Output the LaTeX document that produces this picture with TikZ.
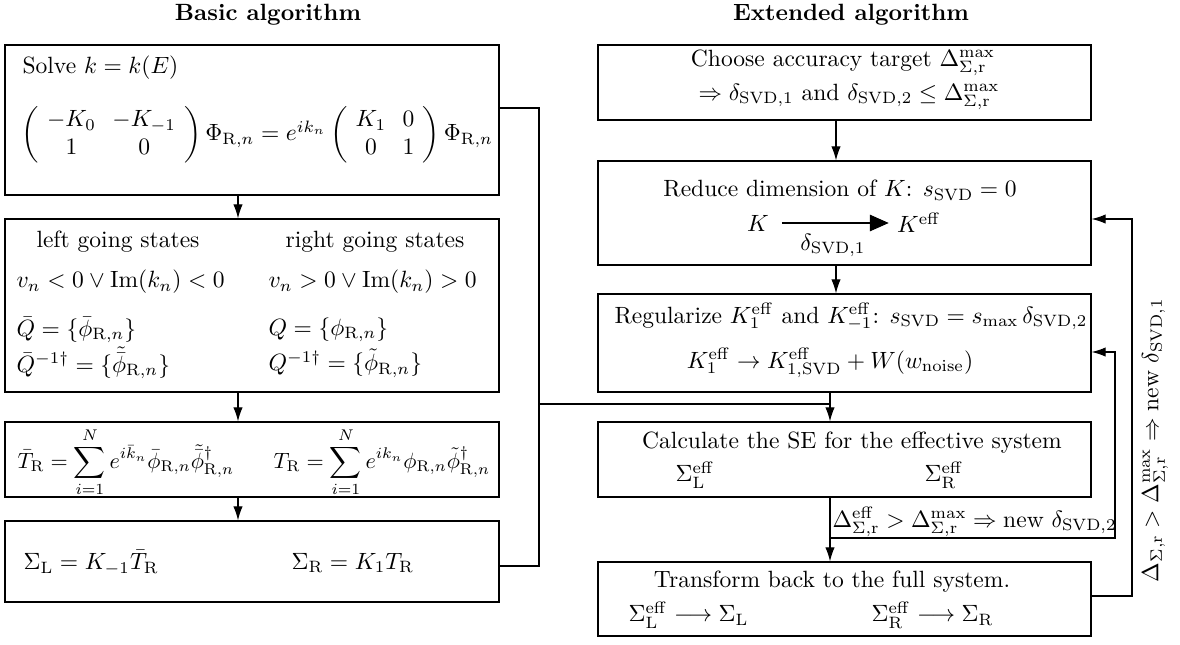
\documentclass[tikz,border=0pt]{standalone}
\usepackage{amsmath,amssymb}
\usepackage{graphicx}
\usetikzlibrary{arrows.meta,calc,positioning,fit}

\newcommand{\SVD}{\mathrm{SVD}}
\newcommand{\eff}{\mathrm{eff}}
\newcommand{\Sr}{\Sigma,\mathrm{r}}
\newcommand{\Rn}{\mathrm{R},n}

\begin{document}
\begin{tikzpicture}[x=0.425pt,y=-0.425pt,>={Latex[length=6pt,width=4pt]},line width=0.5pt,
  box/.style={draw,inner sep=0pt},
  lbl/.style={inner sep=0pt,anchor=west},
  mid/.style={inner sep=0pt}]
\useasboundingbox (0,0) rectangle (1180,644);
% titles
\node[mid,font=\bfseries] (tbasic) at (268,15) {Basic algorithm};
\node[mid,font=\bfseries] (textd) at (851,15) {Extended algorithm};

% basic algorithm
\node[box,fit={(5,45)(499,195)}] (b1) {};
\node[box,fit={(5,219)(499,392)}] (b2) {};
\node[box,fit={(5,422)(499,497)}] (b3) {};
\node[box,fit={(5,521)(499,602)}] (b4) {};

\node[lbl] (solve) at (22,68) {Solve $k=k(E)$};
\node[lbl] (eig) at (21,135) {\arraycolsep=3.5pt$\left(\begin{array}{cc}-K_0 & -K_{-1}\\ 1 & 0\end{array}\right)\Phi_{\Rn}
  =e^{ik_n}\left(\begin{array}{cc}K_1 & 0\\ 0 & 1\end{array}\right)\Phi_{\Rn}$};

\node[mid] (lgo) at (118,242) {left going states};
\node[mid] (rgo) at (375,242) {right going states};
\node[lbl] (lcond) at (16,282) {$v_n<0\vee\mathrm{Im}(k_n)<0$};
\node[lbl] (rcond) at (268,282) {$v_n>0\vee\mathrm{Im}(k_n)>0$};
\node[lbl] (lq) at (16,330) {$\bar Q=\{\bar\phi_{\Rn}\}$};
\node[lbl] (rq) at (268,330) {$Q=\{\phi_{\Rn}\}$};
\node[lbl] (lqi) at (16,363) {$\bar Q^{-1\dagger}=\{\tilde{\bar\phi}_{\Rn}\}$};
\node[lbl] (rqi) at (268,363) {$Q^{-1\dagger}=\{\tilde\phi_{\Rn}\}$};

\node[lbl] (ltr) at (17,462) {\scalebox{0.94}{$\displaystyle\bar T_{\mathrm R}=\sum_{i=1}^{N}e^{i\bar k_n}\bar\phi_{\Rn}\tilde{\bar\phi}^{\dagger}_{\Rn}$}};
\node[lbl] (rtr) at (273,462) {\scalebox{0.94}{$\displaystyle T_{\mathrm R}=\sum_{i=1}^{N}e^{ik_n}\phi_{\Rn}\tilde\phi^{\dagger}_{\Rn}$}};

\node[lbl] (lse) at (23,563) {$\Sigma_{\mathrm L}=K_{-1}\bar T_{\mathrm R}$};
\node[lbl] (rse) at (291,563) {$\Sigma_{\mathrm R}=K_1T_{\mathrm R}$};

% extended algorithm
\node[box,fit={(598,45)(1091,120)}] (e1) {};
\node[box,fit={(598,161)(1091,265)}] (e2) {};
\node[box,fit={(598,294)(1091,392)}] (e3) {};
\node[box,fit={(598,422)(1091,497)}] (e4) {};
\node[box,fit={(598,562)(1091,636)}] (e5) {};

\node[mid] (acc) at (843,63) {Choose accuracy target $\Delta^{\max}_{\Sr}$};
\node[mid] (acc2) at (849,97) {$\Rightarrow\delta_{\SVD,1}$ and $\delta_{\SVD,2}\le\Delta^{\max}_{\Sr}$};

\node[mid] (red) at (840,190) {Reduce dimension of $K$: $s_{\SVD}=0$};
\node (kk) at (758,223) {$K$};
\node (ke) at (919,223) {$K^{\eff}$};
\draw[-{Triangle[length=8pt,width=7pt]},shorten <=2pt] (kk) -- (ke) node[midway,below=1pt] (dsvd) {$\delta_{\SVD,1}$};

\node[mid] (reg) at (851,317) {Regularize $K_1^{\eff}$ and $K_{-1}^{\eff}$: $s_{\SVD}=s_{\max}\,\delta_{\SVD,2}$};
\node[mid] (regk) at (830,363) {$K_1^{\eff}\to K^{\eff}_{1,\SVD}+W(w_{\mathrm{noise}})$};

\node[mid] (calc) at (852,443) {Calculate the SE for the effective system};
\node[lbl] (sle) at (675,475) {$\Sigma^{\eff}_{\mathrm L}$};
\node[lbl] (sre) at (924,475) {$\Sigma^{\eff}_{\mathrm R}$};

\node[mid] (trf) at (832,582) {Transform back to the full system.};
\node[lbl] (tl) at (628,615) {$\Sigma^{\eff}_{\mathrm L}\longrightarrow\Sigma_{\mathrm L}$};
\node[lbl] (tr) at (871,615) {$\Sigma^{\eff}_{\mathrm R}\longrightarrow\Sigma_{\mathrm R}$};

% connectors
\coordinate (lx) at (238,0);
\coordinate (ux) at (836,0);
\coordinate (rx) at (830,0);
\draw[->] (b1.south -| lx) -- (b2.north -| lx);
\draw[->] (b2.south -| lx) -- (b3.north -| lx);
\draw[->] (b3.south -| lx) -- (b4.north -| lx);
\draw[->] (e1.south -| ux) -- (e2.north -| ux);
\draw[->] (e2.south -| ux) -- (e3.north -| ux);
\draw[->] (e3.south -| rx) -- (e4.north -| rx);
\draw[->] (e4.south -| rx) -- (e5.north -| rx);

\coordinate (j1) at (539,108);
\coordinate (j2) at (539,404);
\coordinate (j3) at (539,566);
\draw (b1.east |- j1) -- (j1) -- (j3) -- (b4.east |- j3);
\draw (j2) -- (j2 -| rx);

\coordinate (i1) at (1115,352);
\coordinate (i2) at (1115,538);
\draw[->] (i2 -| rx) -- (i2) -- (i1) -- (e3.east |- i1);
\node[lbl] (dlab) at (832,522) {$\Delta^{\eff}_{\Sr}>\Delta^{\max}_{\Sr}\Rightarrow\text{new }\delta_{\SVD,2}$};

\coordinate (o1) at (1132,219);
\coordinate (o2) at (1132,596);
\draw[->] (e5.east |- o2) -- (o2) -- (o1) -- (e2.east |- o1);
\node[mid,rotate=90] (rlab) at (1155,440) {$\Delta_{\Sr}>\Delta^{\max}_{\Sr}\Rightarrow\text{new }\delta_{\SVD,1}$};
\end{tikzpicture}
\end{document}
